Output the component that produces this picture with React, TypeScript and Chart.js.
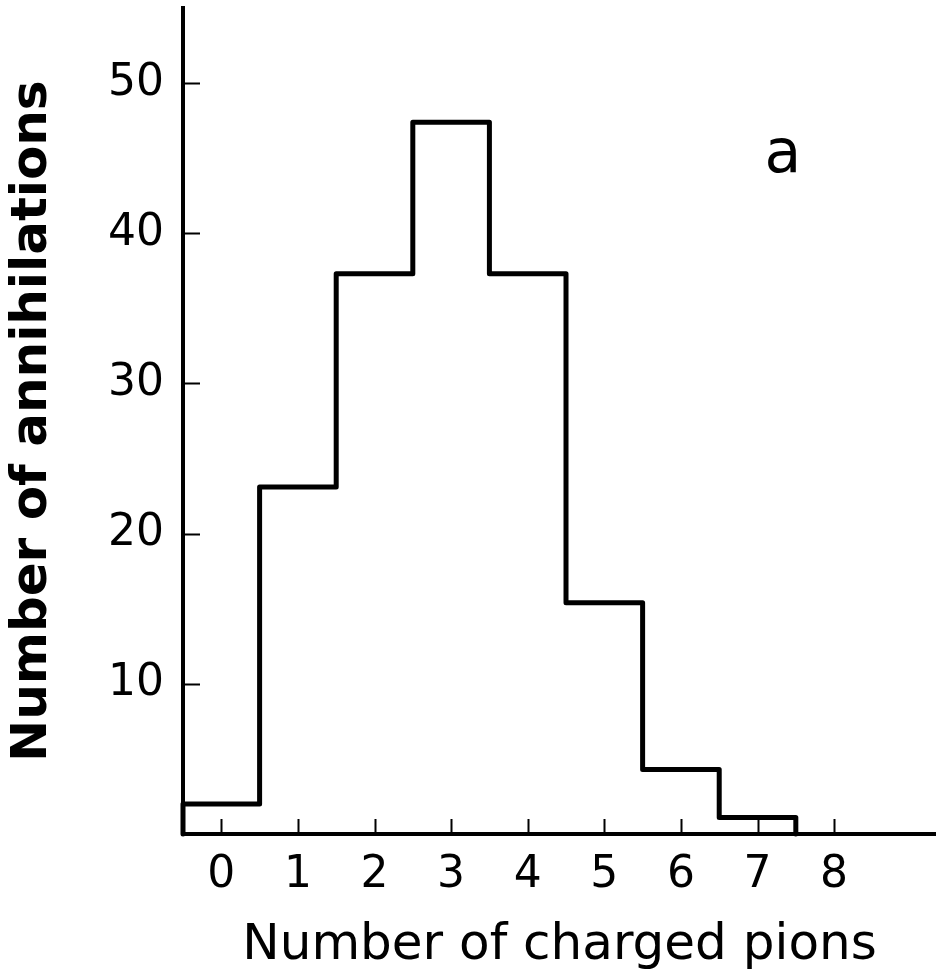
import React, { useEffect, useRef } from "react";
import { Chart, registerables } from "chart.js";

Chart.register(...registerables);

// Number of charged pions (bin centres)
const pionCounts: number[] = [0, 1, 2, 3, 4, 5, 6, 7];
// Number of annihilations per bin
const annihilations: number[] = [2.0, 23.1, 37.3, 47.4, 37.3, 15.4, 4.3, 1.1];
const xTickValues: number[] = [0, 1, 2, 3, 4, 5, 6, 7, 8];
const yTickValues: number[] = [10, 20, 30, 40, 50];
const xTitle = "Number of charged pions";
const yTitle = "Number of annihilations";
const panelLabel = "a";
const panelLabelPos = { x: 7.33, y: 45.1 };

const W = 936;
const H = 980;

export default function App() {
  const ref = useRef<HTMLCanvasElement | null>(null);

  useEffect(() => {
    const canvas = ref.current;
    if (!canvas) return;

    // step outline built from the bins: start on the axis, one point per bin left edge, close at the last right edge
    const pts: { x: number; y: number }[] = [];
    pts.push({ x: pionCounts[0] - 0.5, y: 0 });
    pionCounts.forEach((c, i) => pts.push({ x: c - 0.5, y: annihilations[i] }));
    pts.push({ x: pionCounts[pionCounts.length - 1] + 0.5, y: 0 });

    const inwardTicks = {
      id: "inwardTicks",
      afterDatasetsDraw(chart: any) {
        const { ctx, chartArea, scales } = chart;
        ctx.save();
        ctx.strokeStyle = "#000";
        ctx.lineWidth = 2;
        ctx.beginPath();
        yTickValues.forEach((v) => {
          const y = Math.round(scales.y.getPixelForValue(v)) + 0.5;
          ctx.moveTo(chartArea.left, y);
          ctx.lineTo(chartArea.left + 17, y);
        });
        xTickValues.forEach((v) => {
          const x = Math.round(scales.x.getPixelForValue(v)) + 0.5;
          ctx.moveTo(x, chartArea.bottom);
          ctx.lineTo(x, chartArea.bottom - 15);
        });
        ctx.stroke();
        ctx.fillStyle = "#000";
        ctx.font = "60px 'DejaVu Sans'";
        ctx.textAlign = "center";
        ctx.textBaseline = "middle";
        ctx.fillText(
          panelLabel,
          scales.x.getPixelForValue(panelLabelPos.x),
          scales.y.getPixelForValue(panelLabelPos.y)
        );
        ctx.restore();
      },
    };

    const noPad = (s: any) => {
      s.paddingTop = 0;
      s.paddingBottom = 0;
      s.paddingLeft = 0;
      s.paddingRight = 0;
    };

    const chart = new Chart(canvas, {
      type: "line",
      data: {
        datasets: [
          {
            data: pts,
            stepped: "before",
            borderColor: "#000",
            borderWidth: 5,
            borderJoinStyle: "round",
            borderCapStyle: "round",
            pointRadius: 0,
            fill: false,
            clip: false as any,
          },
        ],
      },
      options: {
        responsive: false,
        devicePixelRatio: 1,
        animation: false,
        layout: { padding: { top: 8, right: 0, left: 0, bottom: 0 } },
        plugins: {
          legend: { display: false },
          tooltip: { enabled: false },
        },
        scales: {
          x: {
            type: "linear",
            min: -0.5,
            max: 9.33,
            grid: { display: false },
            border: { display: true, color: "#000", width: 4 },
            afterBuildTicks: (s: any) => {
              s.ticks = xTickValues.map((v) => ({ value: v }));
            },
            afterFit: (s: any) => {
              s.height = 146;
              noPad(s);
            },
            ticks: {
              color: "#000",
              padding: 7,
              autoSkip: false,
              maxRotation: 0,
              font: { family: "'DejaVu Sans'", size: 44 },
              callback: (v: any) => String(v),
            },
            title: {
              display: true,
              text: xTitle,
              color: "#000",
              font: { family: "'DejaVu Sans'", size: 50 },
              padding: { top: 0, bottom: 4 },
            },
          },
          y: {
            type: "linear",
            min: 0,
            max: 55,
            grid: { display: false },
            border: { display: true, color: "#000", width: 4 },
            afterBuildTicks: (s: any) => {
              s.ticks = yTickValues.map((v) => ({ value: v }));
            },
            afterFit: (s: any) => {
              s.width = 183;
              noPad(s);
            },
            ticks: {
              color: "#000",
              padding: 11,
              font: { family: "'DejaVu Sans'", size: 44 },
              callback: (v: any) => String(v),
            },
            title: {
              display: true,
              text: yTitle,
              color: "#000",
              font: { family: "'DejaVu Sans'", size: 50, weight: "bold" },
              padding: { top: 3, bottom: 0 },
            },
          },
        },
      },
      plugins: [inwardTicks],
    });

    return () => chart.destroy();
  }, []);

  return (
    <div style={{ position: "absolute", left: 0, top: 0, width: W, height: H, background: "#fff" }}>
      <canvas ref={ref} width={W} height={H} style={{ display: "block", width: W, height: H }} />
    </div>
  );
}
